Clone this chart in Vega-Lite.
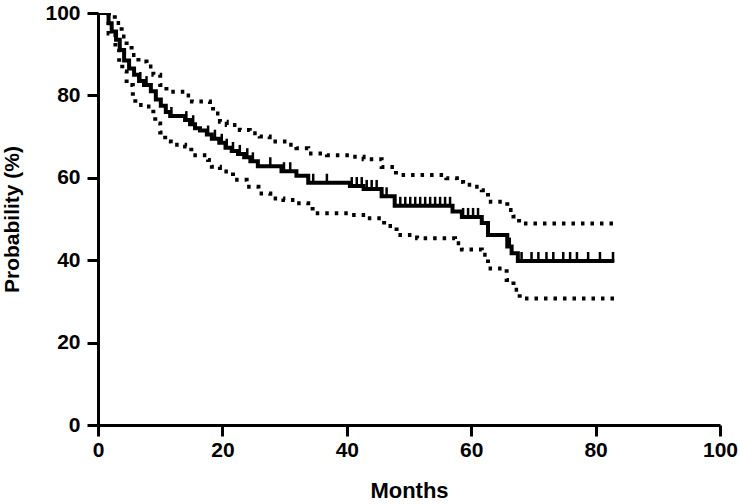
{
  "$schema": "https://vega.github.io/schema/vega-lite/v6.json",
  "width": 622,
  "height": 412,
  "autosize": "none",
  "padding": {"left": 98, "top": 13, "right": 20, "bottom": 79},
  "background": "white",
  "config": {
    "view": {"stroke": null},
    "axis": {
      "grid": false,
      "domainColor": "black",
      "domainWidth": 3,
      "tickColor": "black",
      "tickWidth": 3,
      "labelColor": "black",
      "titleColor": "black",
      "labelFont": "Liberation Sans, Arial, sans-serif",
      "labelFontWeight": "bold",
      "labelFontSize": 21,
      "titleFont": "Liberation Sans, Arial, sans-serif",
      "titleFontWeight": "bold"
    }
  },
  "datasets": {
    "km": [
      {"m": 0, "p": 100}, {"m": 1.7, "p": 97.5}, {"m": 2.2, "p": 95.5}, {"m": 2.9, "p": 93.5},
      {"m": 3.5, "p": 91}, {"m": 4.2, "p": 88.5}, {"m": 5.0, "p": 86.5}, {"m": 5.8, "p": 85},
      {"m": 6.6, "p": 83.5}, {"m": 7.4, "p": 82.5}, {"m": 8.5, "p": 81}, {"m": 9.3, "p": 79},
      {"m": 10.1, "p": 77.5}, {"m": 10.9, "p": 76}, {"m": 11.6, "p": 75}, {"m": 14.0, "p": 74},
      {"m": 14.8, "p": 73}, {"m": 15.6, "p": 72}, {"m": 16.4, "p": 71.5}, {"m": 17.5, "p": 70.5},
      {"m": 18.3, "p": 69.5}, {"m": 19.5, "p": 68.5}, {"m": 20.5, "p": 67.3}, {"m": 21.5, "p": 66.5},
      {"m": 22.5, "p": 65.8}, {"m": 23.5, "p": 65}, {"m": 24.5, "p": 64}, {"m": 25.7, "p": 62.8},
      {"m": 29.5, "p": 61.6}, {"m": 31.9, "p": 60.5}, {"m": 33.8, "p": 58.8}, {"m": 40.5, "p": 58},
      {"m": 42.7, "p": 57.3}, {"m": 45.6, "p": 55.5}, {"m": 47.7, "p": 53.2}, {"m": 57, "p": 51.8},
      {"m": 58.5, "p": 50.5}, {"m": 61.7, "p": 49}, {"m": 62.7, "p": 46.1}, {"m": 65.8, "p": 43.3},
      {"m": 66.5, "p": 41.7}, {"m": 67.5, "p": 39.8}, {"m": 83, "p": 39.8}
    ],
    "upper": [
      {"m": 0, "p": 100}, {"m": 2.7, "p": 97.6}, {"m": 3.8, "p": 94.3}, {"m": 4.6, "p": 92.2},
      {"m": 5.4, "p": 89.8}, {"m": 6.5, "p": 88.2}, {"m": 7.8, "p": 87}, {"m": 8.9, "p": 85},
      {"m": 10, "p": 82.5}, {"m": 11, "p": 80.9}, {"m": 14, "p": 80}, {"m": 15.1, "p": 78.5},
      {"m": 18, "p": 77.3}, {"m": 18.5, "p": 75.6}, {"m": 19.6, "p": 73.6}, {"m": 20.7, "p": 72.8},
      {"m": 22.8, "p": 71.6}, {"m": 24.4, "p": 70.8}, {"m": 26, "p": 70}, {"m": 27.6, "p": 68.8},
      {"m": 30.3, "p": 68}, {"m": 31.9, "p": 67.2}, {"m": 33.8, "p": 65.9}, {"m": 36.8, "p": 65.5},
      {"m": 40.8, "p": 65.1}, {"m": 42.7, "p": 64.5}, {"m": 45.6, "p": 62.6}, {"m": 47.9, "p": 60.7},
      {"m": 56, "p": 59.9}, {"m": 57.7, "p": 59}, {"m": 58.7, "p": 58.3}, {"m": 60, "p": 57.8},
      {"m": 61.7, "p": 57}, {"m": 62.7, "p": 54.2}, {"m": 65.8, "p": 52.2}, {"m": 66.8, "p": 50.6},
      {"m": 67.7, "p": 48.9}, {"m": 83, "p": 48.9}
    ],
    "lower": [
      {"m": 0, "p": 100}, {"m": 1.7, "p": 95}, {"m": 2.8, "p": 91.4}, {"m": 3.4, "p": 87.8},
      {"m": 3.9, "p": 85.8}, {"m": 4.6, "p": 82.5}, {"m": 5.6, "p": 79.7}, {"m": 6, "p": 77.7},
      {"m": 7.6, "p": 77.3}, {"m": 8.9, "p": 75.6}, {"m": 9.2, "p": 73.2}, {"m": 10, "p": 71},
      {"m": 10.8, "p": 68.8}, {"m": 11.7, "p": 68}, {"m": 14, "p": 67.6}, {"m": 15, "p": 65.5},
      {"m": 17.7, "p": 64.3}, {"m": 18.3, "p": 62.7}, {"m": 19.6, "p": 61.5}, {"m": 21.7, "p": 59.5},
      {"m": 23.9, "p": 57.8}, {"m": 25.8, "p": 56.2}, {"m": 27.7, "p": 55}, {"m": 29.8, "p": 54.6},
      {"m": 32, "p": 53.8}, {"m": 33.8, "p": 53}, {"m": 34.5, "p": 51.4}, {"m": 40.8, "p": 51},
      {"m": 43.2, "p": 50.2}, {"m": 45.6, "p": 49.8}, {"m": 46, "p": 48.3}, {"m": 48, "p": 46.1},
      {"m": 51.3, "p": 45.3}, {"m": 57.4, "p": 44.1}, {"m": 58.5, "p": 42.6}, {"m": 61.7, "p": 41.3},
      {"m": 62.7, "p": 38}, {"m": 65.7, "p": 35.2}, {"m": 66.8, "p": 32.8}, {"m": 67.8, "p": 30.7},
      {"m": 83, "p": 30.7}
    ],
    "censor": [
      {"m": 6.8, "p": 83.5}, {"m": 7.8, "p": 82.5}, {"m": 11.8, "p": 75}, {"m": 14.2, "p": 74},
      {"m": 15.3, "p": 73}, {"m": 17.7, "p": 70.5}, {"m": 18.8, "p": 69.5}, {"m": 19.9, "p": 68.5},
      {"m": 20.7, "p": 67.3}, {"m": 21.7, "p": 66.5}, {"m": 22.8, "p": 65.8}, {"m": 24, "p": 65},
      {"m": 24.9, "p": 64}, {"m": 27.7, "p": 62.8}, {"m": 29.9, "p": 61.6}, {"m": 30.9, "p": 61.6},
      {"m": 34.6, "p": 58.8}, {"m": 36.8, "p": 58.8}, {"m": 40.8, "p": 58}, {"m": 41.6, "p": 58},
      {"m": 42.4, "p": 58}, {"m": 43.2, "p": 57.3}, {"m": 44, "p": 57.3}, {"m": 44.8, "p": 57.3},
      {"m": 46.4, "p": 55.5}, {"m": 48.6, "p": 53.2}, {"m": 49.4, "p": 53.2}, {"m": 50.2, "p": 53.2},
      {"m": 51, "p": 53.2}, {"m": 51.8, "p": 53.2}, {"m": 52.6, "p": 53.2}, {"m": 53.4, "p": 53.2},
      {"m": 54.2, "p": 53.2}, {"m": 55, "p": 53.2}, {"m": 55.8, "p": 53.2}, {"m": 56.6, "p": 53.2},
      {"m": 58.7, "p": 50.5}, {"m": 59.5, "p": 50.5}, {"m": 60.3, "p": 50.5}, {"m": 61.1, "p": 50.5},
      {"m": 66.2, "p": 43.3}, {"m": 68.1, "p": 39.8}, {"m": 69.7, "p": 39.8}, {"m": 70.8, "p": 39.8},
      {"m": 72.1, "p": 39.8}, {"m": 73.2, "p": 39.8}, {"m": 74.8, "p": 39.8}, {"m": 75.9, "p": 39.8},
      {"m": 77.0, "p": 39.8}, {"m": 78.8, "p": 39.8}, {"m": 80.7, "p": 39.8}, {"m": 82.8, "p": 39.8}
    ]
  },
  "encoding": {
    "x": {
      "field": "m", "type": "quantitative",
      "scale": {"domain": [0, 100], "nice": false, "zero": false},
      "axis": {
        "title": "Months", "values": [0, 20, 40, 60, 80, 100],
        "tickSize": 11, "labelPadding": 3, "titleFontSize": 22, "titlePadding": 20,
        "labelFlush": false
      }
    },
    "y": {
      "field": "p", "type": "quantitative",
      "scale": {"domain": [0, 100], "nice": false},
      "axis": {
        "title": "Probability (%)", "values": [0, 20, 40, 60, 80, 100],
        "tickSize": 11, "labelPadding": 7, "titleFontSize": 21, "titlePadding": 22,
        "labelFlush": false
      }
    }
  },
  "layer": [
    {
      "data": {"name": "upper"},
      "mark": {"type": "line", "interpolate": "step-after", "color": "black", "strokeWidth": 4, "strokeDash": [3.5, 6], "clip": true}
    },
    {
      "data": {"name": "lower"},
      "mark": {"type": "line", "interpolate": "step-after", "color": "black", "strokeWidth": 4, "strokeDash": [3.5, 6], "clip": true}
    },
    {
      "data": {"name": "km"},
      "mark": {"type": "line", "interpolate": "step-after", "color": "black", "strokeWidth": 4, "clip": true}
    },
    {
      "data": {"name": "censor"},
      "mark": {"type": "tick", "orient": "vertical", "color": "black", "size": 10, "thickness": 2.5, "yOffset": -4, "opacity": 1}
    }
  ]
}
